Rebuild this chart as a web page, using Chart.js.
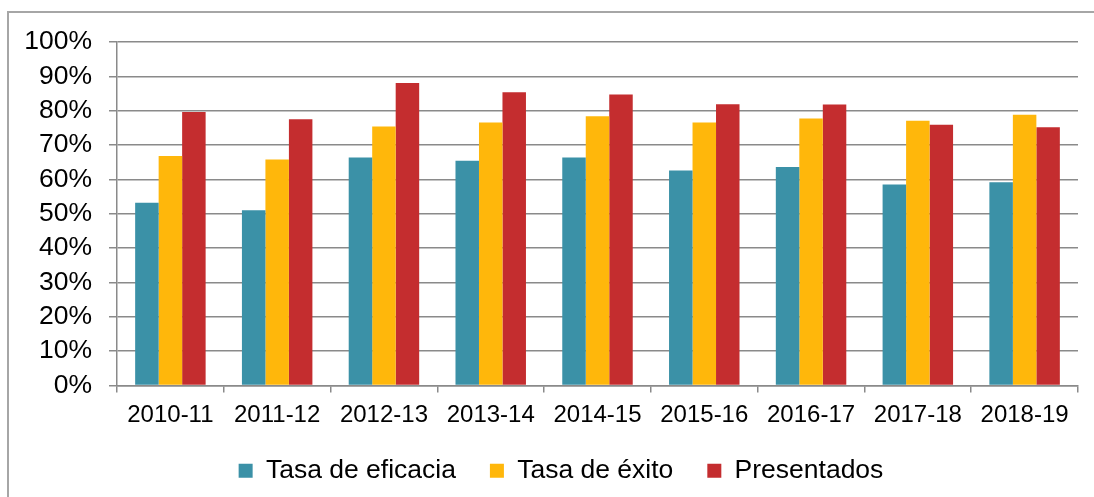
<!DOCTYPE html>
<html>
<head>
<meta charset="utf-8">
<script src="https://cdn.jsdelivr.net/npm/chart.js@4/dist/chart.umd.min.js"></script>
<style>
  html, body { margin: 0; padding: 0; background: #fff; overflow: hidden; }
  #frame {
    position: absolute; left: 7px; top: 11px; width: 1200px; height: 600px;
    border: 2px solid #a6a6a6; box-sizing: border-box;
  }
  #wrap { position: absolute; left: 0; top: 0; width: 1094px; height: 497px; }
</style>
</head>
<body>
<div id="frame"></div>
<div id="wrap"><canvas id="chart"></canvas></div>
<script>
// Curso academico
const cursos = ['2010-11', '2011-12', '2012-13', '2013-14', '2014-15', '2015-16', '2016-17', '2017-18', '2018-19'];

// valores en %
const tasaEficacia = [53.2, 51.0, 66.4, 65.4, 66.4, 62.6, 63.6, 58.5, 59.2];
const tasaExito    = [66.8, 65.8, 75.4, 76.6, 78.4, 76.6, 77.7, 77.1, 78.8];
const presentados  = [79.6, 77.5, 88.1, 85.4, 84.7, 81.9, 81.8, 75.9, 75.2];

const yTicks = [0, 10, 20, 30, 40, 50, 60, 70, 80, 90, 100];

const FONT = "'Liberation Sans', Arial, sans-serif";
const gridGray = '#8a8a8a';

// la leyenda del original esta un poco desplazada a la derecha
const legendShift = {
  id: 'legendShift',
  afterLayout(chart) {
    const lg = chart.legend;
    lg.left += 22; lg.right += 22;
    lg.top -= 2; lg.bottom -= 2;
  }
};

const ctx = document.getElementById('chart').getContext('2d');
new Chart(ctx, {
  type: 'bar',
  data: {
    labels: cursos,
    datasets: [
      { label: 'Tasa de eficacia', data: tasaEficacia, backgroundColor: '#3b91a7' },
      { label: 'Tasa de éxito', data: tasaExito, backgroundColor: '#ffb70b' },
      { label: 'Presentados', data: presentados, backgroundColor: '#c42d2f' }
    ]
  },
  plugins: [legendShift],
  options: {
    responsive: true,
    maintainAspectRatio: false,
    animation: false,
    datasets: {
      bar: { categoryPercentage: 0.66, barPercentage: 1.0 }
    },
    layout: { padding: { top: 42, right: 16, left: 0, bottom: 1 } },
    plugins: {
      tooltip: { enabled: false },
      legend: {
        position: 'bottom',
        labels: {
          color: '#000',
          font: { family: FONT, size: 26.5 },
          boxWidth: 14,
          boxHeight: 14,
          padding: 34
        }
      }
    },
    scales: {
      x: {
        grid: { display: true, drawOnChartArea: false, color: gridGray, lineWidth: 1.5, tickLength: 7 },
        border: { color: gridGray, width: 1.5 },
        ticks: { color: '#000', font: { family: FONT, size: 24 }, padding: 8, maxRotation: 0, autoSkip: false },
        afterFit: s => { s.height = 40; }
      },
      y: {
        min: 0,
        max: 100,
        afterBuildTicks: s => { s.ticks = yTicks.map(v => ({ value: v })); },
        grid: { color: gridGray, lineWidth: 1.5, tickLength: 8 },
        border: { color: gridGray, width: 1.5 },
        ticks: {
          color: '#000',
          font: { family: FONT, size: 26.5 },
          padding: 17,
          autoSkip: false,
          callback: v => v + '%'
        },
        afterFit: s => { s.width = 117; }
      }
    }
  }
});
</script>
</body>
</html>
